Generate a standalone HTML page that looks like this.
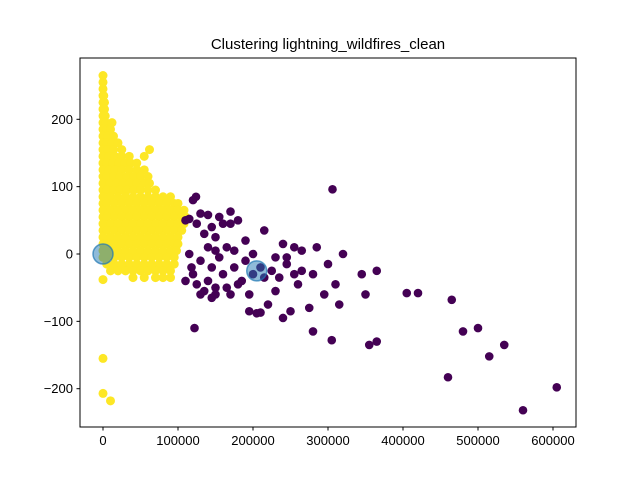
<!DOCTYPE html>
<html><head><meta charset="utf-8"><style>
html,body{margin:0;padding:0;background:#fff}
svg text{font-family:"Liberation Sans","DejaVu Sans",sans-serif}
</style></head><body>
<svg id="chart" width="640" height="480" xmlns="http://www.w3.org/2000/svg">
<rect width="640" height="480" fill="#fff"/>
<text x="328" y="49" font-size="15" text-anchor="middle">Clustering lightning_wildfires_clean</text>
<g id="marks"></g>
<rect x="80" y="58" width="496" height="369" fill="none" stroke="#000" stroke-width="1"/>
<g id="axes"></g>
</svg>
<script>
// data (x in thousands)
const xTicks=[0,100000,200000,300000,400000,500000,600000];
const yTicks=[-200,-100,0,100,200];
const purpleX=[306,124,120,170,155,140,130,115,110,180,160,145,125,170,190,135,150,200,210,230,240,255,265,285,300,320,215,175,165,155,145,130,120,110,125,135,150,165,180,195,195,205,210,220,230,240,250,255,275,280,295,305,310,315,345,350,355,365,365,405,420,465,480,500,515,535,460,560,605,122,140,160,175,185,200,215,225,245,235,265,190,150,140,115,118,130,145,170,150,245,280,260];
const purpleY=[96,85,80,63,55,58,60,52,50,50,45,40,45,45,20,30,25,0,-20,-5,15,10,5,10,-15,0,35,5,10,-5,-20,-10,-30,-40,-45,-55,-60,-50,-45,-60,-85,-88,-87,-75,-55,-95,-85,-30,-80,-115,-60,-128,-45,-75,-30,-60,-135,-130,-25,-58,-58,-68,-115,-110,-152,-135,-183,-232,-198,-110,-40,-30,-20,-40,-30,-35,-25,-5,-35,-25,-10,5,10,0,-20,-60,-65,-60,-50,-15,-30,-45];
const yellowRowsY=[265,255,245,235,225,215,205,195,185,175,165,155,145,135,125,115,105,95,85,75,65,55,45,35,25,15,5,-5,-15,-25,-35,-38,-155,-207,-218];
const yellowRowsX=[
[0],[0],[0],[0,1],[0,2],[0,2],[0,3],[0,4,12],[0,5,10],[0,6,14],[0,5,12,20],[0,6,14,25,62],[0,8,16,25,35,55],
[0,5,13,21,29,37,45],
[0,8,16,25,35,45,55],
[0,5,14,23,32,41,50,60],
[0,9,18,27,36,45,55,62],
[0,5,14,23,32,41,50,60,70],
[0,10,20,30,40,50,60,70,80,90],
[0,5,15,25,35,45,55,65,75,85,95,100],
[0,10,20,30,40,50,60,70,80,90,100,108],
[0,5,15,25,35,45,55,65,75,85,95,105,110],
[0,10,20,30,40,50,60,70,80,90,100,108],
[0,5,15,25,35,45,55,65,75,85,95,105],
[0,10,20,30,40,50,60,70,80,90,100],
[0,5,15,25,35,45,55,65,75,85,95,100],
[0,10,20,30,40,50,60,70,80,90,98],
[0,5,15,25,35,45,55,65,75,85,95],
[5,15,25,35,45,55,65,75,85,95],
[10,20,30,40,50,60,70,80,90],
[40,55,70,80,90],[0],[0],[0],[10]];
const centroidX=[0,205];
const centroidY=[0,-25];
const xs=v=>103+v*0.00075, ys=v=>254-v*0.6735;
const NS='http://www.w3.org/2000/svg';
const marks=document.getElementById('marks'), axes=document.getElementById('axes');
function dot(x,y,r,fill,name){const c=document.createElementNS(NS,'circle');c.setAttribute('cx',xs(x*1000));c.setAttribute('cy',ys(y));c.setAttribute('r',r);c.setAttribute('fill',fill);


marks.appendChild(c);return c;}
yellowRowsY.forEach((y,i)=>yellowRowsX[i].forEach(x=>dot(x,y,4.5,'#fde725','yellow-point')));
purpleX.forEach((x,i)=>dot(x,purpleY[i],4.3,'#440154','purple-point'));
centroidX.forEach((x,i)=>{const c=dot(x,centroidY[i],10,'rgba(31,119,180,0.5)','centroid');c.setAttribute('stroke','rgba(31,119,180,0.7)');c.setAttribute('stroke-width','1.5');});
xTicks.forEach(v=>{const px=xs(v);const l=document.createElementNS(NS,'line');l.setAttribute('x1',px);l.setAttribute('x2',px);l.setAttribute('y1',427);l.setAttribute('y2',430.5);l.setAttribute('stroke','#000');


axes.appendChild(l);const t=document.createElementNS(NS,'text');t.setAttribute('x',px);t.setAttribute('y',445);t.setAttribute('font-size','13');t.setAttribute('text-anchor','middle');t.textContent=v;


axes.appendChild(t);});
yTicks.forEach(v=>{const py=ys(v);const l=document.createElementNS(NS,'line');l.setAttribute('x1',76.5);l.setAttribute('x2',80);l.setAttribute('y1',py);l.setAttribute('y2',py);l.setAttribute('stroke','#000');


axes.appendChild(l);const t=document.createElementNS(NS,'text');t.setAttribute('x',73);t.setAttribute('y',py+4.5);t.setAttribute('font-size','13');t.setAttribute('text-anchor','end');t.textContent=v<0?'\u2212'+(-v):v;


axes.appendChild(t);});
</script>
</body></html>
